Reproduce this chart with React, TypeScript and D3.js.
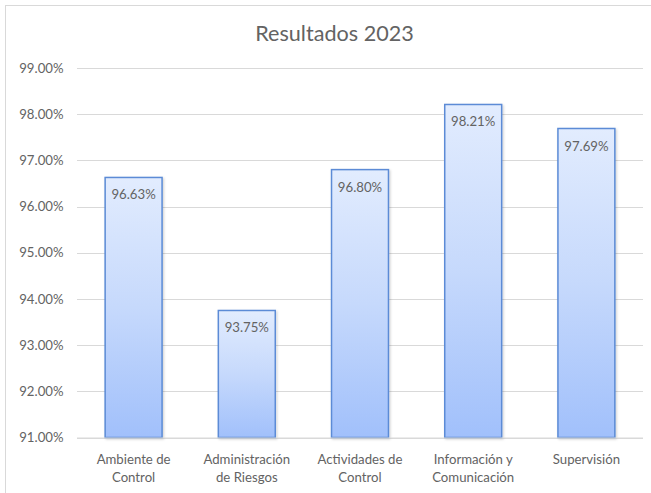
import React from "react";
import * as d3 from "d3";

const categories: string[][] = [
  ["Ambiente de", "Control"],
  ["Administración", "de Riesgos"],
  ["Actividades de", "Control"],
  ["Información y", "Comunicación"],
  ["Supervisión"],
];
const values: number[] = [96.63, 93.75, 96.8, 98.21, 97.69];
const yTicks: number[] = [91, 92, 93, 94, 95, 96, 97, 98, 99];
const title = "Resultados 2023";

const W = 651;
const H = 493;
const FONT = "Lato, 'Open Sans', sans-serif";
const TEXT = "#636363";
const FS = 13.2;

export default function App() {
  const x = d3
    .scaleBand<number>()
    .domain(values.map((_, i) => i))
    .range([77, 643])
    .paddingInner(0.497)
    .paddingOuter(0.2485);
  const y = d3.scaleLinear().domain([91, 99]).range([437.5, 68]);

  return (
    <svg
      width={W}
      height={H}
      style={{ position: "absolute", left: 0, top: 0, background: "#fff" }}
      fontFamily={FONT}
    >
      <defs>
        <linearGradient id="barGrad" x1="0" y1="0" x2="0" y2="1">
          <stop offset="0%" stopColor="#e2ecfe" />
          <stop offset="50%" stopColor="#c6d9fc" />
          <stop offset="100%" stopColor="#a1c0fb" />
        </linearGradient>
        <filter id="shadow" x="-20%" y="-5%" width="150%" height="115%">
          <feDropShadow dx="1.2" dy="1.2" stdDeviation="1" floodColor="#000" floodOpacity="0.18" />
        </filter>
      </defs>
      <rect x={5.5} y={5.5} width={W + 10} height={H + 10} fill="#fff" stroke="#d9d9d9" strokeWidth={1} />
      <text x={334.5} y={40.5} textAnchor="middle" fontSize={21.6} fill={TEXT}>
        {title}
      </text>
      {yTicks.map((t) => (
        <g key={t}>
          <line
            x1={77}
            x2={643}
            y1={Math.round(y(t)) + 0.5}
            y2={Math.round(y(t)) + 0.5}
            stroke="#d9d9d9"
            strokeWidth={1}
          />
          <text x={63.5} y={y(t)} dy="0.35em" textAnchor="end" fontSize={FS} fill={TEXT}>
            {d3.format(".2f")(t) + "%"}
          </text>
        </g>
      ))}
      {values.map((v, i) => {
        const bx = x(i)!;
        const bw = x.bandwidth();
        const top = y(v);
        return (
          <g key={i}>
            <rect
              x={bx}
              y={top}
              width={bw}
              height={y(91) - top}
              fill="url(#barGrad)"
              stroke="#5b8bd6"
              strokeWidth={1.5}
              filter="url(#shadow)"
            />
            <text x={bx + bw / 2} y={top + 22} textAnchor="middle" fontSize={FS} fill={TEXT}>
              {d3.format(".2f")(v) + "%"}
            </text>
          </g>
        );
      })}
      <line x1={77} x2={643} y1={438} y2={438} stroke="#d9d9d9" strokeWidth={1} />
      {categories.map((lines, i) => {
        const cx = x(i)! + x.bandwidth() / 2;
        return (
          <text key={i} x={cx} textAnchor="middle" fontSize={FS} fill={TEXT}>
            {lines.map((l, j) => (
              <tspan key={j} x={cx} y={463.5 + j * 18}>
                {l}
              </tspan>
            ))}
          </text>
        );
      })}
    </svg>
  );
}
